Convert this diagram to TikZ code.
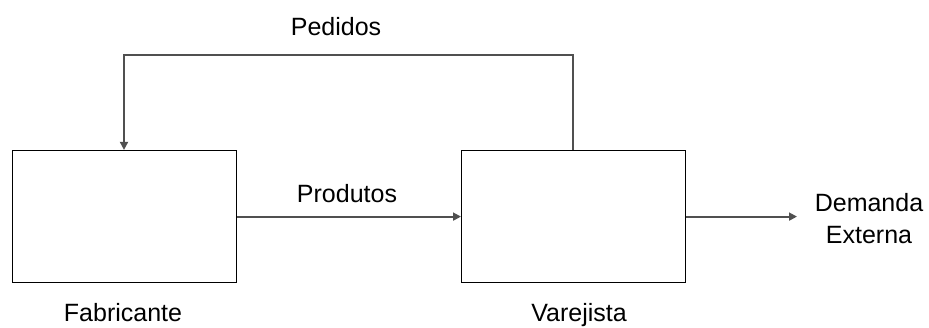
\documentclass[tikz,border=0pt]{standalone}
\usepackage{fontspec}
\setmainfont{Liberation Sans}
\usetikzlibrary{arrows.meta}
\definecolor{linegray}{HTML}{505050}
\begin{document}
\begin{tikzpicture}[x=1pt,y=-1pt,
  boxstyle/.style={draw=black,line width=1.4pt,minimum width=224pt,minimum height=132pt,inner sep=0pt},
  conn/.style={draw=linegray,line width=1.8pt,-{Triangle[length=8pt,width=8pt]}},
  lbl/.style={font=\fontsize{25}{32.5}\selectfont,inner sep=0pt,align=center,anchor=base}]
\useasboundingbox (0,0) rectangle (929,327);
\node[boxstyle] (fab) at (124.5,216.6) {};
\node[boxstyle] (var) at (573.7,216.6) {};
\node[lbl] (pedidos) at (336,35) {Pedidos};
\node[lbl] (produtos) at (347,202.5) {Produtos};
\node[lbl,anchor=north] (demanda) at (869,192.7) {\rule{0pt}{17.5pt}Demanda\\Externa};
\node[lbl] (fabl) at (123,321.5) {Fabricante};
\node[lbl] (varl) at (579,321.5) {Varejista};
\coordinate (end) at (797,216.6);
\coordinate (tr) at (573,54.7);
\coordinate (tl) at (124,54.7);
\draw[conn] (var.north -| tr) -- (tr) -- (tl) -- (fab.north -| tl);
\draw[conn] (fab.east) -- (var.west);
\draw[conn] (var.east) -- (end);
\end{tikzpicture}
\end{document}
